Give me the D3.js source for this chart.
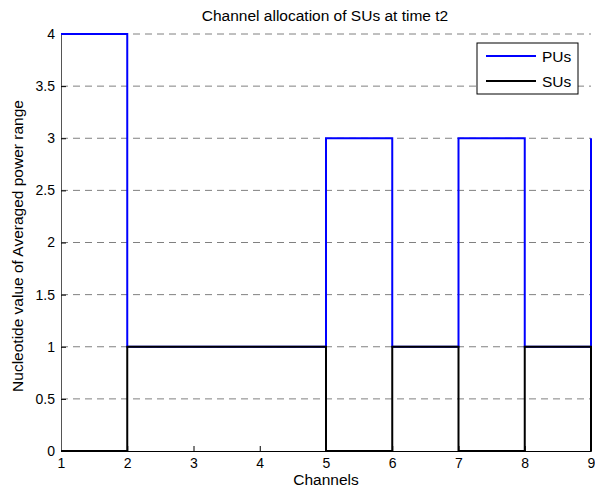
<!DOCTYPE html>
<html><head><meta charset="utf-8">
<script src="https://cdn.jsdelivr.net/npm/d3@7"></script>
<style>body{margin:0;background:#fff;}svg text{font-family:"Liberation Sans",Arial,sans-serif;}</style>
</head><body><svg id="c" width="595" height="495"></svg>
<script>
const channels = [1,2,3,4,5,6,7,8,9];
const pus = [4,1,1,1,3,1,3,1,3];
const sus = [0,1,1,1,0,1,0,1,0];
const yTicks = [0,0.5,1,1.5,2,2.5,3,3.5,4];
const xTicks = [1,2,3,4,5,6,7,8,9];
const seriesNames = ["PUs","SUs"];
const seriesColors = ["#0000ff","#000000"];

const svg = d3.select("#c");
const L=61, R=591, T=34, B=451;
const x = d3.scaleLinear().domain([1,9]).range([L,R]);
const y = d3.scaleLinear().domain([0,4]).range([B,T]);

// grid
svg.append("g").selectAll("line").data(yTicks.filter(d=>d>0)).join("line")
  .attr("x1",L).attr("x2",R).attr("y1",d=>y(d)).attr("y2",d=>y(d))
  .attr("stroke","#808080").attr("stroke-width",1).attr("stroke-dasharray","7,5");

// axes
const xa = svg.append("g").attr("transform",`translate(0,${B})`)
  .call(d3.axisBottom(x).tickValues(xTicks).tickSize(-5).tickPadding(7).tickFormat(d3.format("d")));
const ya = svg.append("g").attr("transform",`translate(${L},0)`)
  .call(d3.axisLeft(y).tickValues(yTicks).tickSize(-5).tickPadding(6).tickFormat(d=>String(d)));
[xa,ya].forEach(a=>{
  a.select(".domain").attr("stroke","#000").attr("stroke-width",1);
  a.selectAll(".tick line").attr("stroke","#000");
  a.selectAll("text").attr("font-size",14).attr("fill","#000").attr("font-family","Liberation Sans, Arial, sans-serif");
});
ya.select(".domain").attr("stroke","#555");

const line = d3.line().x((d,i)=>x(channels[i])).y(d=>y(d)).curve(d3.curveStepAfter);
[pus,sus].forEach((s,k)=>{
  svg.append("path").datum(s).attr("d",line).attr("fill","none")
    .attr("stroke",seriesColors[k]).attr("stroke-width",2);
});

// title & labels
svg.append("text").attr("x",325).attr("y",21).attr("text-anchor","middle").attr("font-size",15.5)
  .text("Channel allocation of SUs at time t2");
svg.append("text").attr("x",326).attr("y",485).attr("text-anchor","middle").attr("font-size",15.5)
  .text("Channels");
svg.append("text").attr("transform","translate(23,246) rotate(-90)").attr("text-anchor","middle").attr("font-size",15.5)
  .text("Nucleotide value of Averaged power range");

// legend
const lg = svg.append("g");
lg.append("rect").attr("x",477).attr("y",43).attr("width",101).attr("height",51)
  .attr("fill","#fff").attr("stroke","#000").attr("stroke-width",1);
seriesNames.forEach((n,i)=>{
  const yy = 56 + i*25;
  lg.append("line").attr("x1",486).attr("x2",536).attr("y1",yy).attr("y2",yy)
    .attr("stroke",seriesColors[i]).attr("stroke-width",2);
  lg.append("text").attr("x",542).attr("y",yy+5.5).attr("font-size",15.5).text(n);
});
</script></body></html>
